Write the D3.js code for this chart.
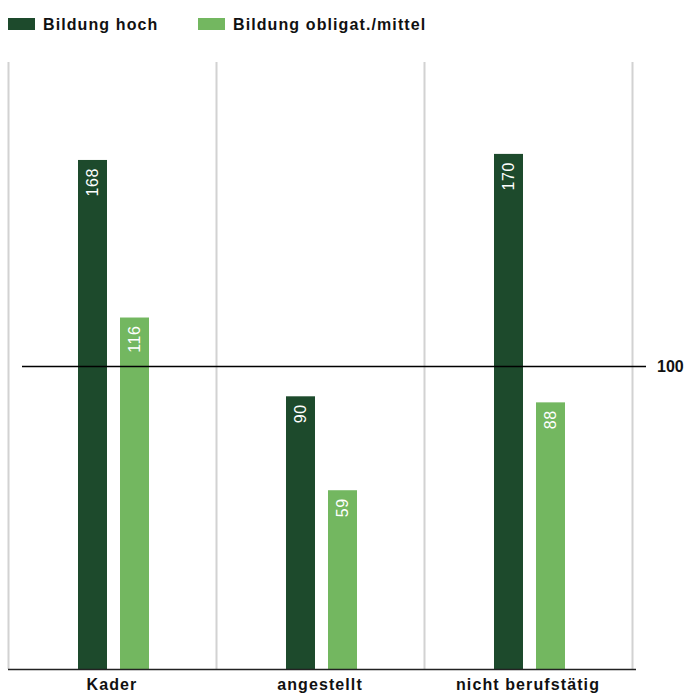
<!DOCTYPE html>
<html><head><meta charset="utf-8">
<script src="https://cdn.jsdelivr.net/npm/d3@7"></script>
<style>html,body{margin:0;padding:0;background:#fff;}</style>
</head><body>
<script>
const categories = ["Kader", "angestellt", "nicht berufstätig"];
const seriesNames = ["Bildung hoch", "Bildung obligat./mittel"];
const hoch = [168, 90, 170];
const mittel = [116, 59, 88];
const refValue = 100;
const refLabel = "100";
const colors = ["#1d4a2c", "#73b760"];

const W = 684, H = 693;
const svg = d3.select("body").append("svg").attr("width", W).attr("height", H);
const font = "'Liberation Sans', Arial, sans-serif";

const x = d3.scaleBand().domain(categories).range([8, 632]).padding(0);
const y = d3.scaleLinear().domain([0, 100]).range([669, 366]);

// vertical gridlines
const gridX = [0, 1, 2, 3].map(i => i === 3 ? x.range()[1] : x(categories[i]));
svg.selectAll("line.grid").data(gridX).enter().append("line")
  .attr("x1", d => d + 0.5).attr("x2", d => d + 0.5)
  .attr("y1", 62).attr("y2", 669)
  .attr("stroke", "#d2d2d2").attr("stroke-width", 2);

const data = categories.map((c, i) => ({c, vals: [hoch[i], mittel[i]]}));
const barW = 29;
const offsets = [-34, 8];

const g = svg.append("g");
data.forEach(d => {
  d.vals.forEach((v, j) => {
    const cx = x(d.c) + x.bandwidth() / 2 + offsets[j];
    g.append("rect")
      .attr("x", cx).attr("width", barW)
      .attr("y", y(v)).attr("height", y(0) - y(v))
      .attr("fill", colors[j]);
    g.append("text")
      .attr("transform", `translate(${cx + barW / 2 + 5.5},${y(v) + 8}) rotate(-90)`)
      .attr("text-anchor", "end")
      .attr("font-family", font).attr("font-size", 16)
      .attr("letter-spacing", "0.6px")
      .attr("fill", "#fff")
      .text(v);
  });
});

// reference line
svg.append("line")
  .attr("x1", 22).attr("x2", 646)
  .attr("y1", Math.round(y(refValue)) + 0.5).attr("y2", Math.round(y(refValue)) + 0.5)
  .attr("stroke", "#000").attr("stroke-width", 1.3);
svg.append("text")
  .attr("x", 657).attr("y", y(refValue) + 6)
  .attr("font-family", font).attr("font-size", 16).attr("font-weight", "bold")
  .attr("fill", "#111").text(refLabel);

// baseline
svg.append("line")
  .attr("x1", 8).attr("x2", 636)
  .attr("y1", 669.5).attr("y2", 669.5)
  .attr("stroke", "#222").attr("stroke-width", 1.5);

// category axis labels
const xAxis = d3.axisBottom(x).tickSize(0).tickPadding(0);
const ax = svg.append("g").attr("transform", "translate(0,675)").call(xAxis);
ax.select(".domain").remove();
ax.selectAll("text")
  .attr("font-family", font).attr("font-size", 16).attr("font-weight", "bold")
  .attr("letter-spacing", "1.1px")
  .attr("fill", "#111").attr("dy", "0.95em");

// legend
const legX = [8, 198];
seriesNames.forEach((s, i) => {
  svg.append("rect").attr("x", legX[i]).attr("y", 18).attr("width", 27).attr("height", 12)
    .attr("fill", colors[i]);
  svg.append("text").attr("x", legX[i] + 35).attr("y", 30)
    .attr("font-family", font).attr("font-size", 16).attr("font-weight", "bold")
    .attr("letter-spacing", "1.1px")
    .attr("fill", "#111").text(s);
});
</script>
</body></html>
